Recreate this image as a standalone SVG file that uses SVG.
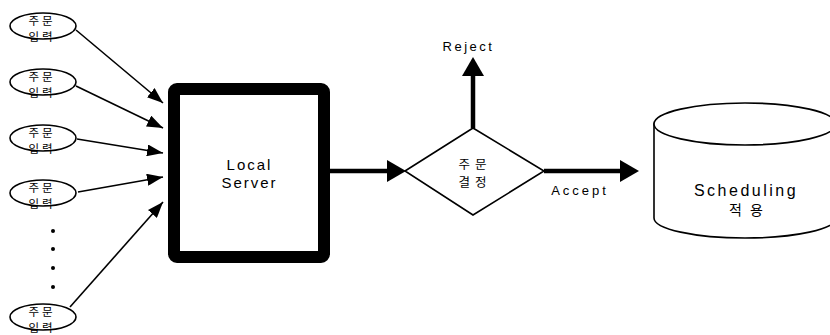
<svg xmlns="http://www.w3.org/2000/svg" width="830" height="335" viewBox="0 0 830 335">
<style>
.bg{fill:#fff}
.sh{fill:#fff;stroke:#000;stroke-width:1.6}
.kr{font-family:"Noto Sans CJK KR","Noto Sans",sans-serif;font-size:11.5px;fill:#000;text-anchor:middle;letter-spacing:3px}
.kd{font-family:"Noto Sans CJK KR","Noto Sans",sans-serif;font-size:12.5px;fill:#000;text-anchor:middle;letter-spacing:5px}
.ks{font-family:"Noto Sans CJK KR","Noto Sans",sans-serif;font-size:14px;fill:#000;text-anchor:middle;letter-spacing:8px}
.en{font-family:"Liberation Sans",Arial,sans-serif;fill:#000;text-anchor:middle}
.thin{stroke:#000;stroke-width:1.6;fill:none}
.thick{stroke:#000;stroke-width:4.5;fill:none}
</style>
<defs>
<marker id="ah" markerUnits="userSpaceOnUse" markerWidth="16" markerHeight="12" refX="16" refY="6" orient="auto"><path d="M0,0 L16,6 L0,12 z" fill="#000"/></marker>
<marker id="ahb" markerUnits="userSpaceOnUse" markerWidth="19" markerHeight="22" refX="0" refY="11" orient="auto"><path d="M0,0 L19,11 L0,22 z" fill="#000"/></marker>
</defs>
<rect class="bg" x="0" y="0" width="830" height="335"/>
<g id="connectors">
<line class="thin" x1="76" y1="30" x2="163" y2="103" marker-end="url(#ah)"/>
<line class="thin" x1="76" y1="86" x2="163" y2="128" marker-end="url(#ah)"/>
<line class="thin" x1="77" y1="139" x2="163" y2="153" marker-end="url(#ah)"/>
<line class="thin" x1="78" y1="192" x2="163" y2="177" marker-end="url(#ah)"/>
<line class="thin" x1="70" y1="307" x2="163" y2="202" marker-end="url(#ah)"/>
<line class="thick" x1="330" y1="171" x2="387" y2="171" marker-end="url(#ahb)"/>
<line class="thick" x1="473" y1="128" x2="473" y2="76" marker-end="url(#ahb)"/>
<line class="thick" x1="544" y1="171" x2="620" y2="171" marker-end="url(#ahb)"/>
</g>
<g id="input1"><ellipse class="sh" cx="43" cy="26" rx="33" ry="13"/><text class="kr" x="42" y="24.5">주문</text><text class="kr" x="42" y="41">입력</text></g>
<g id="input2"><ellipse class="sh" cx="43" cy="82" rx="33" ry="13"/><text class="kr" x="42" y="80.5">주문</text><text class="kr" x="42" y="97">입력</text></g>
<g id="input3"><ellipse class="sh" cx="43" cy="138" rx="33" ry="13"/><text class="kr" x="42" y="136.5">주문</text><text class="kr" x="42" y="153">입력</text></g>
<g id="input4"><ellipse class="sh" cx="43" cy="193" rx="33" ry="13"/><text class="kr" x="42" y="191.5">주문</text><text class="kr" x="42" y="208">입력</text></g>
<g id="dots"><circle cx="53" cy="231" r="2"/><circle cx="53" cy="249" r="2"/><circle cx="53" cy="268" r="2"/><circle cx="53" cy="287" r="2"/></g>
<g id="input5"><ellipse class="sh" cx="43" cy="317" rx="33" ry="13"/><text class="kr" x="42" y="315.5">주문</text><text class="kr" x="42" y="332">입력</text></g>
<g id="server"><rect x="174" y="89" width="150" height="168" rx="3" fill="#fff" stroke="#000" stroke-width="12"/><text class="en" x="249.5" y="170" font-size="15" letter-spacing="2">Local</text><text class="en" x="249.5" y="188" font-size="15" letter-spacing="2">Server</text></g>
<g id="decision"><polygon class="sh" points="405,171 473,128 544,171 473,215"/><text class="kd" x="475" y="169">주문</text><text class="kd" x="475" y="187">결정</text></g>
<g id="reject"><text class="en" x="468.5" y="51" font-size="13" letter-spacing="2.5">Reject</text></g>
<g id="accept"><text class="en" x="580" y="195" font-size="13" letter-spacing="3">Accept</text></g>
<g id="scheduling"><path class="sh" d="M654,124 L654,218 A91,20 0 0,0 836,218 L836,124 Z"/><ellipse class="sh" cx="745" cy="124" rx="91" ry="21"/><text class="en" x="746" y="196" font-size="16" letter-spacing="2.5">Scheduling</text><text class="ks" x="750" y="215">적용</text></g>
</svg>
